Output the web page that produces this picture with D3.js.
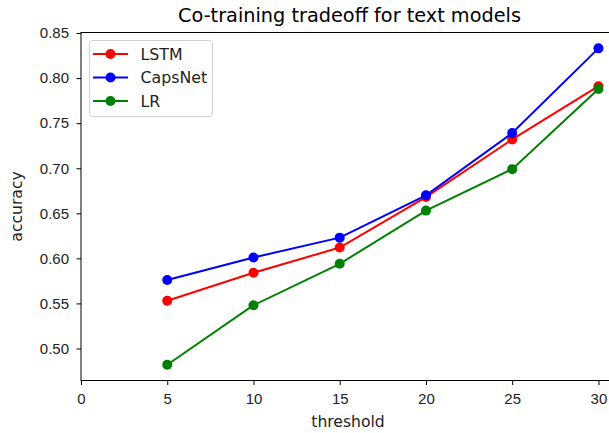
<!DOCTYPE html>
<html>
<head>
<meta charset="utf-8">
<script src="https://cdn.jsdelivr.net/npm/d3@7"></script>
<style>
  body { margin: 0; background: #fff; }
  svg { font-family: "DejaVu Sans", sans-serif; }
  .tick text { font-size: 15px; fill: #222; }
</style>
</head>
<body>
<svg id="chart" width="609" height="433"></svg>
<script>
// data
var thresholds = [5, 10, 15, 20, 25, 30];
var lstm    = [0.553, 0.584, 0.612, 0.668, 0.732, 0.791];
var capsnet = [0.576, 0.601, 0.623, 0.670, 0.739, 0.833];
var lr      = [0.482, 0.548, 0.594, 0.653, 0.699, 0.788];
var xTicks = [0, 5, 10, 15, 20, 25, 30];
var yTicks = [0.50, 0.55, 0.60, 0.65, 0.70, 0.75, 0.80, 0.85];

var series = [
    {name: 'LSTM', values: lstm, color: '#ff0000'},
    {name: 'CapsNet', values: capsnet, color: '#0000ff'},
    {name: 'LR', values: lr, color: '#008000'}
];

var svg = d3.select('#chart');
var plotLeft = 81, plotTop = 32.5, plotBottom = 380.5, plotRight = 620;

var x = d3.scaleLinear().domain([0, 31.25]).range([plotLeft, plotRight]);
var y = d3.scaleLinear().domain([0.4645, 0.8506]).range([plotBottom, plotTop]);

// axes
svg.append('g')
    .attr('transform', 'translate(0,' + plotBottom + ')')
    .call(d3.axisBottom(x).tickValues(xTicks).tickSize(4.5).tickPadding(8.5).tickSizeOuter(0))
    .call(function (g) { g.select('.domain').remove(); });

svg.append('g')
    .attr('transform', 'translate(' + plotLeft + ',0)')
    .call(d3.axisLeft(y).tickValues(yTicks).tickFormat(d3.format('.2f')).tickSize(4.5).tickPadding(7.5).tickSizeOuter(0))
    .call(function (g) { g.select('.domain').remove(); });

// frame
svg.append('rect')
    .attr('x', plotLeft).attr('y', plotTop)
    .attr('width', plotRight - plotLeft).attr('height', plotBottom - plotTop)
    .attr('fill', 'none').attr('stroke', '#000').attr('stroke-width', 1);

// lines and markers
var line = d3.line()
    .x(function (d, i) { return x(thresholds[i]); })
    .y(function (d) { return y(d); });

series.forEach(function (s) {
    svg.append('path')
        .datum(s.values)
        .attr('d', line)
        .attr('fill', 'none')
        .attr('stroke', s.color)
        .attr('stroke-width', 2);

    svg.selectAll(null)
        .data(s.values)
        .enter().append('circle')
        .attr('cx', function (d, i) { return x(thresholds[i]); })
        .attr('cy', function (d) { return y(d); })
        .attr('r', 5)
        .attr('fill', s.color);
});

// titles
svg.append('text')
    .attr('x', 349.5).attr('y', 22)
    .attr('text-anchor', 'middle')
    .attr('font-size', 19.3)
    .attr('fill', '#000')
    .text('Co-training tradeoff for text models');

svg.append('text')
    .attr('x', 348).attr('y', 427)
    .attr('text-anchor', 'middle')
    .attr('font-size', 15.6)
    .attr('fill', '#222')
    .text('threshold');

svg.append('text')
    .attr('transform', 'translate(22,' + ((plotTop + plotBottom) / 2) + ') rotate(-90)')
    .attr('text-anchor', 'middle')
    .attr('font-size', 15.6)
    .attr('fill', '#222')
    .text('accuracy');

// legend
var legend = svg.append('g');
legend.append('rect')
    .attr('x', 89.5).attr('y', 40.5)
    .attr('width', 123).attr('height', 76).attr('rx', 3)
    .attr('fill', '#fff').attr('fill-opacity', 0.8)
    .attr('stroke', '#d0d0d0');

series.forEach(function (s, i) {
    var ly = 54 + i * 23.5;
    legend.append('line')
        .attr('x1', 93).attr('x2', 128)
        .attr('y1', ly).attr('y2', ly)
        .attr('stroke', s.color).attr('stroke-width', 2);
    legend.append('circle')
        .attr('cx', 110.5).attr('cy', ly).attr('r', 5)
        .attr('fill', s.color);
    legend.append('text')
        .attr('x', 140.5).attr('y', ly + 5.5)
        .attr('font-size', 15.8)
        .attr('fill', '#222')
        .text(s.name);
});
</script>
</body>
</html>
